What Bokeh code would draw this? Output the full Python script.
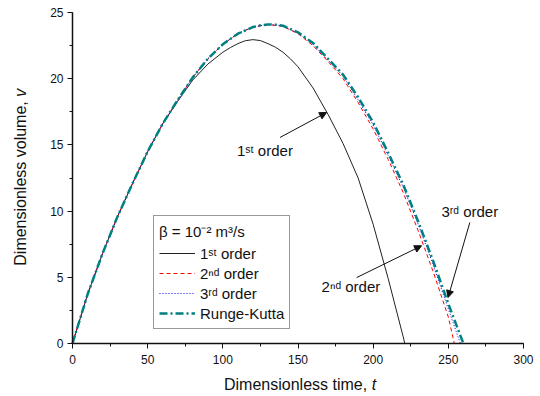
import math
from bokeh.plotting import figure
from bokeh.models import (Range1d, SingleIntervalTicker, Legend, LegendItem,
                          Label, Arrow, NormalHead)
from bokeh.embed import file_html
from bokeh.resources import INLINE

# ---- data ----
t_first = [0, 10, 20, 30, 40, 50, 60, 70, 80, 90, 100, 105, 110, 115, 120,
           125, 130, 135, 140, 145, 150, 160, 170, 180, 190, 200, 210, 220, 221]
v_first = [0, 3.7, 6.8, 9.6, 12.1, 14.5, 16.6, 18.3, 19.9, 21.1, 22.0, 22.35,
           22.65, 22.87, 22.95, 22.88, 22.65, 22.38, 22.0, 21.5, 20.9, 19.3,
           17.3, 15.1, 12.5, 9.0, 4.9, 0.5, 0]

t_second = [0, 10, 20, 30, 40, 50, 60, 70, 80, 90, 100, 110, 120, 130, 140,
            150, 160, 170, 180, 190, 200, 210, 220, 230, 240, 250, 254]
v_second = [0, 3.7, 6.8, 9.6, 12.1, 14.5, 16.6, 18.4, 20.1, 21.5, 22.6, 23.4,
            23.9, 24.1, 23.95, 23.4, 22.5, 21.3, 20.0, 18.2, 16.2, 13.9, 11.4,
            8.5, 5.4, 2.0, 0]

t_third = [0, 10, 20, 30, 40, 50, 60, 70, 80, 90, 100, 110, 120, 130, 140,
           150, 160, 170, 180, 190, 200, 210, 220, 230, 240, 250, 258]
v_third = [0, 3.7, 6.8, 9.6, 12.1, 14.5, 16.6, 18.4, 20.1, 21.5, 22.6, 23.4,
           23.9, 24.1, 24.0, 23.45, 22.6, 21.4, 20.2, 18.4, 16.5, 14.2, 11.8,
           9.0, 5.9, 2.6, 0]

t_rk = [0, 10, 20, 30, 40, 50, 60, 70, 80, 90, 100, 110, 120, 125, 130, 135,
        140, 150, 160, 170, 180, 190, 200, 210, 220, 230, 240, 250, 260]
v_rk = [0, 3.7, 6.8, 9.6, 12.1, 14.5, 16.6, 18.4, 20.1, 21.5, 22.6, 23.4,
        23.9, 24.03, 24.1, 24.08, 24.0, 23.5, 22.7, 21.5, 20.3, 18.6, 16.7,
        14.4, 12.0, 9.2, 6.2, 3.0, 0]

x_limits = (0, 300)
y_limits = (0, 25)

series_labels = ["1\u02e2\u1d57 order", "2\u207f\u1d48 order",
                 "3\u02b3\u1d48 order", "Runge-Kutta"]
legend_title = "\u03b2 = 10\u207b\u00b2 m\u00b3/s"

FONT = "Liberation Sans"
INK = "#111111"

# canvas geometry (pixels)
W, H = 536, 394
FL, FR, FT, FB = 72, 523, 12, 343      # axes box inside the canvas
sx = (FR - FL) / (x_limits[1] - x_limits[0])
sy = (FB - FT) / (y_limits[1] - y_limits[0])
x_range = Range1d(x_limits[0] - FL / sx, x_limits[1] + (W - FR) / sx)
y_range = Range1d(y_limits[0] - (H - FB) / sy, y_limits[1] + FT / sy)

p = figure(width=W, height=H, output_backend="svg", toolbar_location=None,
           x_range=x_range, y_range=y_range,
           min_border_left=0, min_border_right=0, min_border_top=0,
           min_border_bottom=0)
p.outline_line_color = None
p.xgrid.visible = False
p.ygrid.visible = False
p.background_fill_color = "white"
p.border_fill_color = "white"

p.xaxis.ticker = SingleIntervalTicker(interval=50, num_minor_ticks=2)
p.yaxis.ticker = SingleIntervalTicker(interval=5, num_minor_ticks=2)
p.xaxis.fixed_location = y_limits[0]
p.yaxis.fixed_location = x_limits[0]
p.xaxis.bounds = x_limits
p.yaxis.bounds = y_limits
for ax in (p.xaxis, p.yaxis):
    ax.axis_line_color = INK
    ax.axis_line_width = 1.5
    ax.major_tick_line_color = INK
    ax.minor_tick_line_color = INK
    ax.major_tick_in = 0
    ax.major_tick_out = 5
    ax.minor_tick_in = 0
    ax.minor_tick_out = 3
    ax.major_label_text_font = FONT
    ax.major_label_text_font_size = "12px"
    ax.major_label_text_color = INK
p.xaxis.major_label_standoff = 6
p.yaxis.major_label_standoff = 4

r1 = p.line(t_first, v_first, line_color="#222222", line_width=1)
r2 = p.line(t_second, v_second, line_color="#ff0000", line_width=1,
            line_dash="4 3")
r3 = p.line(t_third, v_third, line_color="#0000ff", line_width=1,
            line_dash="1 2")
r4 = p.line(t_rk, v_rk, line_color="#008080", line_width=2.5,
            line_dash="8 3 2 3")

legend = Legend(items=[LegendItem(label=series_labels[0], renderers=[r1]),
                       LegendItem(label=series_labels[1], renderers=[r2]),
                       LegendItem(label=series_labels[2], renderers=[r3]),
                       LegendItem(label=series_labels[3], renderers=[r4])],
                location=(153, H - 329), title=legend_title)
legend.label_text_font = FONT
legend.label_text_font_size = "15px"
legend.label_text_color = INK
legend.title_text_font = FONT
legend.title_text_font_size = "15px"
legend.title_text_font_style = "normal"
legend.title_text_color = INK
legend.title_standoff = 2
legend.glyph_width = 36
legend.glyph_height = 20
legend.label_height = 20
legend.label_standoff = 5
legend.padding = 5
legend.spacing = 0
legend.margin = 0
legend.border_line_color = "#333333"
legend.border_line_width = 1
legend.background_fill_color = "white"
legend.background_fill_alpha = 1
p.add_layout(legend)

# annotations with arrows
def annot(text, x, y):
    p.add_layout(Label(x=x, y=y, text=text, text_font=FONT,
                       text_font_size="15px", text_baseline="middle",
                       text_align="left", text_color=INK))

def arrow(x0, y0, x1, y1):
    p.add_layout(Arrow(x_start=x0, y_start=y0, x_end=x1, y_end=y1,
                       line_color=INK, line_width=1,
                       end=NormalHead(size=7, fill_color=INK,
                                      line_color=INK)))

annot(series_labels[0], 109.4, 14.55)
arrow(138.0, 15.56, 169.0, 17.45)
annot(series_labels[1], 165.7, 4.32)
arrow(189.0, 4.98, 232.2, 7.38)
annot(series_labels[2], 245.4, 9.95)
arrow(264.3, 9.14, 249.8, 3.47)

# axis titles (with italic variable)
p.add_layout(Label(x=196, y=-3.1, text="Dimensionless time,", text_font=FONT,
                   text_font_size="16px", text_align="right",
                   text_baseline="middle", text_color=INK))
p.add_layout(Label(x=199, y=-3.1, text="t", text_font=FONT,
                   text_font_size="16px", text_align="left",
                   text_baseline="middle", text_font_style="italic",
                   text_color=INK))
p.add_layout(Label(x=-34.8, y=18.3, text="Dimensionless volume,",
                   text_font=FONT, text_font_size="16px", text_align="right",
                   text_baseline="middle", angle=math.pi / 2,
                   text_color=INK))
p.add_layout(Label(x=-34.8, y=18.63, text="v", text_font=FONT,
                   text_font_size="16px", text_align="left",
                   text_baseline="middle", angle=math.pi / 2,
                   text_font_style="italic", text_color=INK))

open("out.html", "w").write(file_html(p, INLINE))
